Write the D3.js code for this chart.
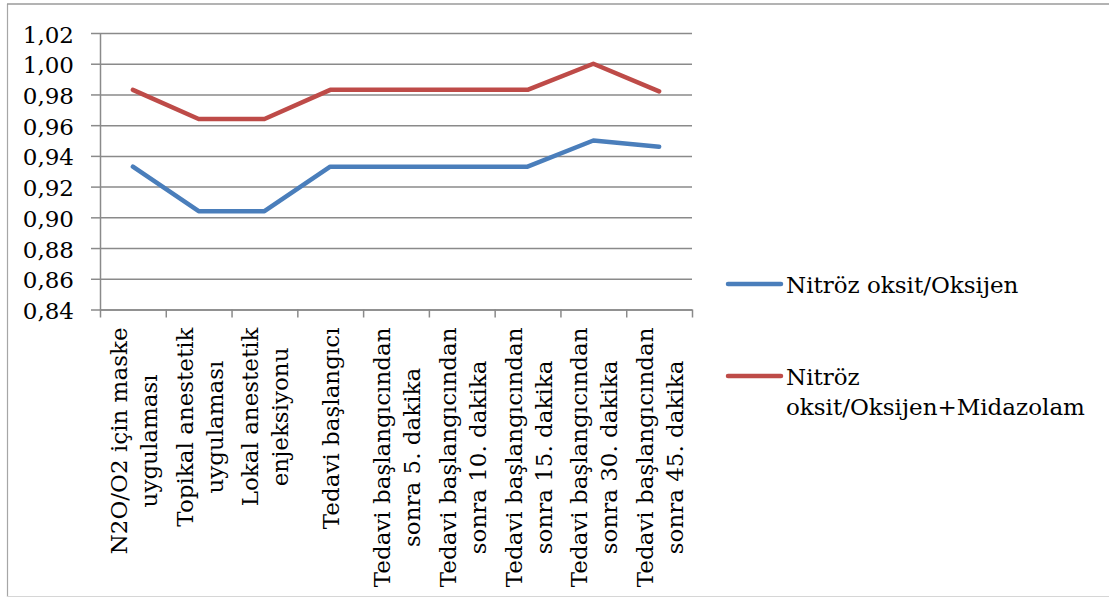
<!DOCTYPE html>
<html>
<head>
<meta charset="utf-8">
<script src="https://cdn.jsdelivr.net/npm/d3@7"></script>
<style>
  html, body { margin: 0; padding: 0; background: #fff; }
  svg { display: block; }
  text { font-family: "DejaVu Serif", "Liberation Serif", serif; fill: #000; }
</style>
</head>
<body>
<svg id="chart" width="1109" height="598"></svg>
<script>
// Time points (line breaks split the axis labels)
const categories = [
  "N2O/O2 için maske\nuygulaması",
  "Topikal anestetik\nuygulaması",
  "Lokal anestetik\nenjeksiyonu",
  "Tedavi başlangıcı",
  "Tedavi başlangıcından\nsonra 5. dakika",
  "Tedavi başlangıcından\nsonra 10. dakika",
  "Tedavi başlangıcından\nsonra 15. dakika",
  "Tedavi başlangıcından\nsonra 30. dakika",
  "Tedavi başlangıcından\nsonra 45. dakika"
];

const seriesNames = ["Nitröz oksit/Oksijen", "Nitröz\noksit/Oksijen+Midazolam"];
const seriesN2O = [0.933, 0.904, 0.904, 0.933, 0.933, 0.933, 0.933, 0.950, 0.946];
const seriesN2OMidazolam = [0.983, 0.964, 0.964, 0.983, 0.983, 0.983, 0.983, 1.000, 0.982];
const seriesColors = ["#4a7ebb", "#be4b48"];

const yTicks = [0.84, 0.86, 0.88, 0.90, 0.92, 0.94, 0.96, 0.98, 1.00, 1.02];

const svg = d3.select("#chart");
const W = 1109, H = 598;
const plot = { left: 100, right: 692, top: 33, bottom: 309.5 };
const gridColor = "#8a8a8a";
const fontSize = 23;

// outer frame
svg.append("line").attr("x1", 7.5).attr("x2", 7.5).attr("y1", 4).attr("y2", 597)
  .attr("stroke", "#a6a6a6").attr("stroke-width", 1.2);
svg.append("line").attr("x1", 7).attr("x2", W).attr("y1", 4).attr("y2", 4)
  .attr("stroke", "#9a9a9a").attr("stroke-width", 1.5);
svg.append("line").attr("x1", 7).attr("x2", W).attr("y1", 596.5).attr("y2", 596.5)
  .attr("stroke", "#d6d6d6").attr("stroke-width", 1.2);

const y = d3.scaleLinear().domain([0.84, 1.02]).range([plot.bottom, plot.top]);
const x = d3.scaleBand().domain(categories).range([plot.left, plot.right]).padding(0);
const xEdge = d3.scaleLinear().domain([0, categories.length]).range([plot.left, plot.right]);

const fmt = d => d3.format(".2f")(d).replace(".", ",");

// horizontal gridlines
svg.append("g")
  .attr("transform", `translate(${plot.left},0)`)
  .call(d3.axisLeft(y).tickValues(yTicks).tickSize(-(plot.right - plot.left)).tickFormat(""))
  .call(g => g.select(".domain").remove())
  .call(g => g.selectAll("line").attr("stroke", gridColor).attr("stroke-width", 1.5));

// y axis with tick labels
svg.append("g")
  .attr("transform", `translate(${plot.left},0)`)
  .call(d3.axisLeft(y).tickValues(yTicks).tickSize(9).tickSizeOuter(0).tickPadding(17).tickFormat(fmt))
  .call(g => g.select(".domain").attr("stroke", gridColor).attr("stroke-width", 1.5))
  .call(g => g.selectAll("line").attr("stroke", gridColor).attr("stroke-width", 1.5))
  .call(g => g.selectAll("text")
    .attr("font-family", "DejaVu Serif")
    .attr("font-size", fontSize)
    .attr("dy", null)
    .attr("y", 9)
    .attr("fill", "#000"));

// x axis ticks at category boundaries
svg.append("g")
  .attr("transform", `translate(0,${plot.bottom})`)
  .call(d3.axisBottom(xEdge).tickValues(d3.range(categories.length + 1)).tickSize(8).tickSizeOuter(0).tickFormat(""))
  .call(g => g.select(".domain").attr("stroke", gridColor).attr("stroke-width", 1.5))
  .call(g => g.selectAll("line").attr("stroke", gridColor).attr("stroke-width", 1.5));

// rotated category labels, lines centred on each other, block starting below the axis
const lineGap = 30;
const labelTop = plot.bottom + 18;
const labels = svg.append("g").attr("class", "x-labels");
categories.forEach(cat => {
  const lines = cat.split("\n");
  const cx = x(cat) + x.bandwidth() / 2;
  const grp = labels.append("g");
  const texts = lines.map(ln => grp.append("text")
    .attr("font-size", fontSize)
    .attr("text-anchor", "middle")
    .text(ln));
  const maxW = d3.max(texts, t => t.node().getComputedTextLength());
  const cy = labelTop + maxW / 2;
  texts.forEach((t, i) => {
    const bx = cx + 9 + (i - (lines.length - 1) / 2) * lineGap;
    t.attr("transform", `translate(${bx},${cy}) rotate(-90)`);
  });
});

// series lines
const line = d3.line()
  .x((d, i) => x(categories[i]) + x.bandwidth() / 2)
  .y(d => y(d));

[seriesN2O, seriesN2OMidazolam].forEach((vals, k) => {
  svg.append("path")
    .datum(vals)
    .attr("d", line)
    .attr("fill", "none")
    .attr("stroke", seriesColors[k])
    .attr("stroke-width", 4.5)
    .attr("stroke-linejoin", "round")
    .attr("stroke-linecap", "round");
});

// legend
const legendItems = [
  { name: seriesNames[0], color: seriesColors[0], y: 284 },
  { name: seriesNames[1], color: seriesColors[1], y: 376 }
];
const legend = svg.append("g").attr("class", "legend");
legendItems.forEach(it => {
  legend.append("line")
    .attr("x1", 728).attr("x2", 781)
    .attr("y1", it.y).attr("y2", it.y)
    .attr("stroke", it.color).attr("stroke-width", 4.5)
    .attr("stroke-linecap", "round");
  it.name.split("\n").forEach((ln, i) => {
    legend.append("text")
      .attr("x", 786)
      .attr("y", it.y + 9 + i * lineGap)
      .attr("font-size", fontSize)
      .text(ln);
  });
});
</script>
</body>
</html>
